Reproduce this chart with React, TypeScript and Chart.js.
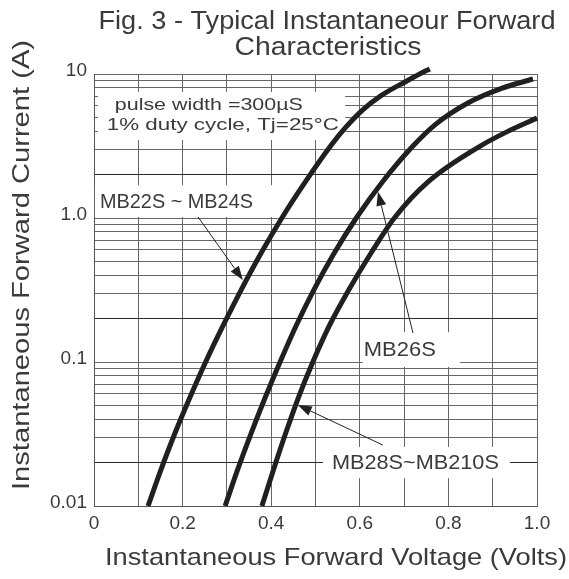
import React, { useEffect, useRef } from 'react';
import { Chart, registerables } from 'chart.js';

Chart.register(...registerables);

// ---------- text ----------
const titleLines = ['Fig. 3 - Typical Instantaneour Forward', 'Characteristics'];
const xTitle = 'Instantaneous Forward Voltage (Volts)';
const yTitle = 'Instantaneous Forward Current (A)';
const noteLines = ['pulse width =300\u00b5S', '1% duty cycle, Tj=25\u00b0C'];
const seriesLabels = ['MB22S ~ MB24S', 'MB26S', 'MB28S~MB210S'];

// ---------- ticks ----------
const voltageTickValues = [0, 0.2, 0.4, 0.6, 0.8, 1.0];
const voltageTickLabels = ['0', '0.2', '0.4', '0.6', '0.8', '1.0'];
const currentTickValues = [0.01, 0.1, 1, 10];
const currentTickLabels = ['0.01', '0.1', '1.0', '10'];

// ---------- series (V, A) ----------
const mb22sVoltage = [0.122, 0.151, 0.182, 0.216, 0.252, 0.291, 0.332, 0.376, 0.424, 0.477, 0.534, 0.567, 0.606, 0.648, 0.705, 0.735, 0.758];
const mb22sCurrent = [0.01, 0.0178, 0.0316, 0.0562, 0.1, 0.178, 0.316, 0.562, 1.0, 1.78, 3.16, 4.22, 5.62, 7.08, 8.91, 10.0, 10.84];

const mb26sVoltage = [0.296, 0.324, 0.354, 0.386, 0.42, 0.456, 0.496, 0.541, 0.592, 0.651, 0.72, 0.771, 0.845, 0.92, 0.991];
const mb26sCurrent = [0.01, 0.0178, 0.0316, 0.0562, 0.1, 0.178, 0.316, 0.562, 1.0, 1.78, 3.16, 4.47, 6.31, 7.94, 9.23];

const mb28sVoltage = [0.379, 0.405, 0.432, 0.461, 0.494, 0.531, 0.575, 0.624, 0.678, 0.754, 0.872, 0.933, 1.0];
const mb28sCurrent = [0.01, 0.0178, 0.0316, 0.0562, 0.1, 0.178, 0.316, 0.562, 1.0, 1.78, 3.16, 3.98, 4.94];

// ---------- annotation placement (data coordinates) ----------
const annotationBoxes = [
  { x0: 0.009, x1: 0.567, y0: 7.5, y1: 3.48 },
  { x0: 0.002, x1: 0.436, y0: 1.69, y1: 1.016 },
  { x0: 0.607, x1: 0.826, y0: 0.161, y1: 0.0923 },
  { x0: 0.517, x1: 0.939, y0: 0.0257, y1: 0.0156 },
];
const annotationTexts = [
  { text: noteLines[0], x: 0.047, y: 6.09, size: 17, width: 188 },
  { text: noteLines[1], x: 0.029, y: 4.42, size: 17, width: 232 },
  { text: seriesLabels[0], x: 0.0135, y: 1.29, size: 21, width: 153 },
  { text: seriesLabels[1], x: 0.609, y: 0.121, size: 21, width: 72 },
  { text: seriesLabels[2], x: 0.537, y: 0.0199, size: 21, width: 167 },
];
const annotationArrows = [
  { fx: 0.235, fy: 1.016, tx: 0.336, ty: 0.371 },
  { fx: 0.72, fy: 0.159, tx: 0.641, ty: 1.52 },
  { fx: 0.652, fy: 0.0265, tx: 0.46, ty: 0.0503 },
];

const FONT = '"Liberation Sans", Arial, Helvetica, sans-serif';
const TEXT_COLOR = '#3a3a3a';
const CURVE_COLOR = '#231f20';

// draws text with its left edge at `left`, vertically centred on midY, stretched to `width`
function drawStretched(ctx: CanvasRenderingContext2D, text: string, left: number, midY: number, size: number, width: number) {
  ctx.save();
  ctx.font = `${size}px ${FONT}`;
  const natural = ctx.measureText(text).width;
  const sx = width / natural;
  ctx.translate(left, midY);
  ctx.scale(sx, 1);
  ctx.textAlign = 'left';
  ctx.textBaseline = 'middle';
  ctx.fillStyle = TEXT_COLOR;
  ctx.fillText(text, 0, 0);
  ctx.restore();
}

const decorPlugin = {
  id: 'decor',
  beforeDatasetsDraw(chart: any) {
    const { ctx, scales } = chart;
    const xs = scales.x, ys = scales.y;
    ctx.save();
    ctx.fillStyle = '#ffffff';
    annotationBoxes.forEach((b) => {
      const l = xs.getPixelForValue(b.x0), r = xs.getPixelForValue(b.x1);
      const t = ys.getPixelForValue(b.y0), bt = ys.getPixelForValue(b.y1);
      ctx.fillRect(l, t, r - l, bt - t);
    });
    ctx.restore();
    annotationTexts.forEach((a) => {
      drawStretched(ctx, a.text, xs.getPixelForValue(a.x), ys.getPixelForValue(a.y), a.size, a.width);
    });
  },
  afterDatasetsDraw(chart: any) {
    const { ctx, scales } = chart;
    const xs = scales.x, ys = scales.y;
    ctx.save();
    ctx.strokeStyle = '#222';
    ctx.fillStyle = '#222';
    ctx.lineWidth = 1;
    annotationArrows.forEach((a) => {
      const x1 = xs.getPixelForValue(a.fx), y1 = ys.getPixelForValue(a.fy);
      const x2 = xs.getPixelForValue(a.tx), y2 = ys.getPixelForValue(a.ty);
      const ang = Math.atan2(y2 - y1, x2 - x1);
      const len = 14, half = 5;
      const bx = x2 - len * Math.cos(ang), by = y2 - len * Math.sin(ang);
      ctx.beginPath();
      ctx.moveTo(x1, y1);
      ctx.lineTo(bx, by);
      ctx.stroke();
      ctx.beginPath();
      ctx.moveTo(x2, y2);
      ctx.lineTo(bx + half * Math.sin(ang), by - half * Math.cos(ang));
      ctx.lineTo(bx - half * Math.sin(ang), by + half * Math.cos(ang));
      ctx.closePath();
      ctx.fill();
    });
    ctx.restore();
  },
  afterDraw(chart: any) {
    const { ctx } = chart;
    drawStretched(ctx, titleLines[0], 327 - 457 / 2, 22, 26, 457);
    drawStretched(ctx, titleLines[1], 328 - 187 / 2, 48, 26, 187);
    drawStretched(ctx, xTitle, 336 - 462 / 2, 558, 24, 462);
    ctx.save();
    ctx.translate(22, 265);
    ctx.rotate(-Math.PI / 2);
    drawStretched(ctx, yTitle, -450 / 2, 0, 24, 450);
    ctx.restore();
  },
};

function toPoints(xs: number[], ys: number[]) {
  return xs.map((v, i) => ({ x: v, y: ys[i] }));
}

function labelFor(values: number[], labels: string[], v: number) {
  for (let i = 0; i < values.length; i++) {
    if (Math.abs(values[i] - v) <= 1e-6 * Math.max(values[i], 1e-3)) return labels[i];
  }
  return '';
}

export default function App() {
  const ref = useRef<HTMLCanvasElement>(null);
  useEffect(() => {
    const canvas = ref.current!;
    const curve = (label: string, data: any[]) => ({
      label,
      data,
      borderColor: CURVE_COLOR,
      backgroundColor: CURVE_COLOR,
      borderWidth: 5,
      pointRadius: 0,
      cubicInterpolationMode: 'monotone' as const,
      fill: false,
      clip: false as any,
    });
    const chart = new Chart(canvas, {
      type: 'line',
      data: {
        datasets: [
          curve(seriesLabels[0], toPoints(mb22sVoltage, mb22sCurrent)),
          curve(seriesLabels[1], toPoints(mb26sVoltage, mb26sCurrent)),
          curve(seriesLabels[2], toPoints(mb28sVoltage, mb28sCurrent)),
        ],
      },
      options: {
        animation: false,
        responsive: false,
        devicePixelRatio: 1,
        layout: { padding: { top: 74, right: 32, bottom: 0, left: 0 } },
        plugins: {
          legend: { display: false },
          tooltip: { enabled: false },
          title: { display: false },
        },
        scales: {
          x: {
            type: 'linear',
            min: 0,
            max: 1,
            afterFit(s: any) { s.height = 73; },
            afterBuildTicks(s: any) {
              const t = [];
              for (let i = 0; i <= 10; i++) t.push({ value: i / 10 });
              s.ticks = t;
            },
            ticks: {
              autoSkip: false,
              maxRotation: 0,
              padding: 6,
              color: TEXT_COLOR,
              font: { family: FONT, size: 19 },
              callback: (v: any) => labelFor(voltageTickValues, voltageTickLabels, Number(v)),
            },
            grid: { color: '#666', lineWidth: 1, drawTicks: false },
            border: { color: '#555', width: 1 },
          },
          y: {
            type: 'logarithmic',
            min: 0.01,
            max: 10,
            afterFit(s: any) { s.width = 94; },
            afterBuildTicks(s: any) {
              const t = [];
              for (let e = -2; e <= 0; e++) {
                for (let m = 1; m <= 9; m++) t.push({ value: Number((m * Math.pow(10, e)).toPrecision(3)) });
              }
              t.push({ value: 10 });
              s.ticks = t;
            },
            ticks: {
              autoSkip: false,
              padding: 7,
              labelOffset: -3,
              color: TEXT_COLOR,
              font: { family: FONT, size: 19 },
              callback: (v: any) => labelFor(currentTickValues, currentTickLabels, Number(v)),
            },
            grid: {
              color: (c: any) => {
                const v = c.tick ? c.tick.value : 1;
                const m = v / Math.pow(10, Math.floor(Math.log10(v) + 1e-9));
                return Math.abs(m - 2) < 1e-6 ? '#2a2a2a' : '#666';
              },
              lineWidth: 1,
              drawTicks: false,
            },
            border: { color: '#555', width: 1 },
          },
        },
      } as any,
      plugins: [decorPlugin],
    });
    return () => chart.destroy();
  }, []);
  return (
    <div style={{ position: 'absolute', left: 0, top: 0, width: 569, height: 579, background: '#fff' }}>
      <canvas ref={ref} width={569} height={579} style={{ display: 'block' }} />
    </div>
  );
}
